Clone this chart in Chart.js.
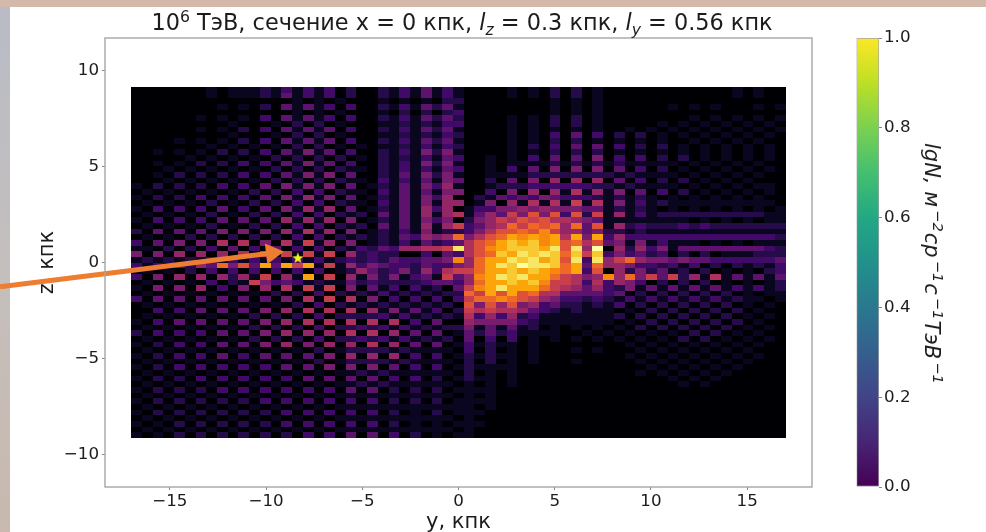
<!DOCTYPE html>
<html lang="ru">
<head>
  <meta charset="UTF-8">
  <title>Карта потока</title>
  <script src="https://cdn.jsdelivr.net/npm/chart.js"></script>
  <style>
    html, body { margin: 0; padding: 0; background: #fff; overflow: hidden; }
    body { width: 986px; height: 532px; position: relative; font-family: "DejaVu Sans", sans-serif; color: #1c1c1c; }
    #topBand { position: absolute; left: 0; top: 0; width: 986px; height: 7px; background: #d4b8aa; }
    #leftBand { position: absolute; left: 0; top: 7px; width: 10px; height: 525px; background: linear-gradient(#b9bcc6, #c4bfbd 50%, #c9b9ae); }
    canvas { position: absolute; top: 0; filter: blur(0.55px); }
    #heat { left: 0; }
    #bar { left: 840px; }
    #title { position: absolute; left: 62px; width: 800px; top: 9px; text-align: center; font-size: 22.4px; line-height: 26px; white-space: pre; filter: blur(0.3px); }
    #barLabel { position: absolute; left: 932px; top: 264px; font-size: 21px; font-style: italic; white-space: pre; transform: translate(-50%, -50%) rotate(90deg); filter: blur(0.3px); }
    sup, sub { font-size: 70%; line-height: 0; }
    #barLabel sup { margin: 0 1px 0 3px; }
  </style>
</head>
<body>
  <div id="topBand"></div>
  <div id="leftBand"></div>
  <canvas id="heat" width="986" height="532"></canvas>
  <canvas id="bar" width="146" height="532"></canvas>
  <div id="title">10<sup>6</sup> ТэВ, сечение x = 0 кпк, <i>l<sub>z</sub></i> = 0.3 кпк, <i>l<sub>y</sub></i> = 0.56 кпк</div>
  <div id="barLabel">lgN, м<sup>−2</sup>ср<sup>−1</sup>с<sup>−1</sup>ТэВ<sup>−1</sup></div>

  <script>
    // axis ticks
    const yTicksKpc = [-15, -10, -5, 0, 5, 10, 15];
    const zTicksKpc = [-10, -5, 0, 5, 10];
    const barTicks = [0, 0.2, 0.4, 0.6, 0.8, 1];

    // extent of the map, kpc
    const yExtent = [-17, 17];
    const zExtent = [-9.13, 9.13];

    // sun and the slide's arrow, in kpc
    const sunY = [-8.35];
    const sunZ = [0.23];
    const arrowY = [-23.82, -9.69];
    const arrowZ = [-1.25, 0.5];

    // map rows from the top, one hex digit per cell (0..f = 0..1)
    const heatRows = [
      "0000000101 1121313130 2002131413 1 0000101020 2010000000 0000010100",
      "0000000101 1121413130 2002131413 1 0000101020 2010000000 0000010100",
      "0000000000 0000010101 0001010102 2 0000000010 1010000000 0000000000",
      "0000000010 1020414130 3002131424 1 0000000010 1010000001 0101000101",
      "0000000000 0000010101 0001020202 3 0000000010 1010000000 0000000000",
      "0000001010 1030414130 3002131424 2 0000101020 2010000000 0101010101",
      "0000000001 0001020201 0001121213 3 0000101020 2010000010 1010101010",
      "0000001010 2030414140 3002131424 1 0000101010 1010010101 0101010101",
      "0000000001 0001020201 0001121213 2 0000101030 4030202010 1010101010",
      "0000101010 2030414140 3002131424 1 0000101020 2010101010 0101010100",
      "0000000101 0101020201 0101121313 2 0000102030 4040302020 1010101010",
      "0010101020 2030415140 3002131525 1 0000101020 2020101010 1010101010",
      "0000010101 0102020202 0102121314 3 0010103040 4050303020 2010101010",
      "0010102020 3030415140 3002131525 1 0010111121 2121211111 0101010100",
      "0001010101 0102020202 1102131314 3 0010304050 5050403020 1010101010",
      "0010202020 3030415150 4002141525 1 0011112222 2222121111 0101010100",
      "0001010101 0102020202 1103131415 4 0020405060 6060403020 2010101000",
      "1020202030 3040515150 4012141536 1 0012223333 3322121111 0101010110",
      "0101010101 0202030302 1103141415 5 0030506061 7161504030 2010101010",
      "1020203030 3040516150 4012141536 0 0214343543 3321212101 0101010100",
      "0101010201 0202030302 1103141516 6 0150617171 8171513121 1111111110",
      "1030303040 3040516160 4012141636 0 1335565655 5441212101 0101010101",
      "0101010201 0202030302 1204141616 7 1464859593 9281613122 2222222211",
      "1030303040 4040616160 5012141535 0 2568798977 6541111111 1010101011",
      "0101010201 0202030302 1204141616 8 3467a8a9a6 a491623222 3232222222",
      "2040404050 5050617160 5012131512 2 35799a9b86 6452212111 1111111111",
      "0101020202 0202030302 1212143656 a 579acbcbc7 c5c3633333 3333333332",
      "3040505070 7050718160 5012131423 4 79acdcdbc9 a794515131 1101010111",
      "1102020304 0304030302 1324366778 e 79bcdddce9 e6f0626351 4444444432",
      "5050606060 7070818180 6232200304 3 79adcededa d8d3534230 2020111222",
      "1212121313 1313131312 3232433445 b 6accedecd9 e3e68a6554 5443333334",
      "31314264a5 94c4c8c181 6354332433 5 6acedfeeda c4a6653323 1302021213",
      "0101020303 0303030301 2642352637 8 8accdcdcba c390625241 2020101023",
      "3050606062 618061c080 6152513418 4 6bcedecca8 756b6a5848 2617141414",
      "0101010302 1853431211 4232222344 3 6accdcdb88 7373653020 2020101012",
      "1050506030 5060708180 5041303120 4 8bceccca87 6463251414 1414131312",
      "0101010101 0102020302 1213121212 2 a8c9c9a774 4443402020 2020201011",
      "3040404040 4040507080 7050303030 3 8aaba98653 3232131313 1313121101",
      "0101010101 0101020302 1212121212 0 9596956342 2121302020 2020201010",
      "0030304040 4050607070 7061514130 2 8787764321 2111010202 0202020100",
      "0101010101 0202020302 2223131212 1 7363623111 1111202020 2020201010",
      "1030404040 4050607070 7070703040 0 6555532111 1111010202 0202020100",
      "0101010101 0202020302 2323131212 2 5141412010 1010102020 2020201010",
      "2030303040 4050606060 7070604040 1 4242311110 0101010101 0202010100",
      "0101010101 0202020302 2323131212 0 4030301010 1010101010 2020101010",
      "1020303040 4050605060 6070604040 1 3121101000 0000010101 0101010100",
      "0101010101 0101010201 2222121111 0 3020101000 1010001010 1010101000",
      "1020303040 3040404050 6060603030 1 2121101000 0000010101 0101010100",
      "0101010101 0101010201 2222121111 0 2020101000 1000001010 1010101000",
      "1020303030 3030404050 5050403030 1 2111100000 0000000101 0101010000",
      "0101010101 0101010101 1212111111 0 2010100000 0000001010 1010100000",
      "1020203030 3030304040 4040303020 1 2110100000 0000000001 0101000000",
      "0101010101 0101010101 1212111111 0 1010100000 0000000000 1010000000",
      "1020202030 3030303030 4040202020 1 1110000000 0000000000 0000000000",
      "0101010101 0101010101 1111111111 0 1010000000 0000000000 0000000000",
      "1020202020 2030303030 3030202020 1 1110000000 0000000000 0000000000",
      "0101010101 0101010101 1111111111 1 1010000000 0000000000 0000000000",
      "1020202020 2020303030 3030201020 1 1100000000 0000000000 0000000000",
      "0101010101 0101010101 1111111111 0 1000000000 0000000000 0000000000",
      "1010202020 2020303030 3030201010 1 1100000000 0000000000 0000000000",
      "0101010101 0101010101 1111111111 0 1000000000 0000000000 0000000000",
      "1010202020 2020203030 4040302010 1 1000000000 0000000000 0000000000"
    ];

    // the map and the bar really do use different colour maps in the source
    const infernoLevels = ["#000004", "#0a0620", "#250b49", "#420a68", "#5d126e", "#781c6d", "#932667", "#ae305c",
      "#c73e4c", "#dd513a", "#ed6925", "#f8870e", "#fca50a", "#f9c932", "#f6e766", "#fcffa4"];
    const viridisStops = ["#440154", "#482475", "#414487", "#355f8d", "#2a788e", "#21918c",
      "#22a884", "#44bf70", "#7ad151", "#bddf26", "#fde725"];

    const textColor = "#1c1c1c";
    const spineColor = "#a6a6a6";
    const tickFont = { family: "DejaVu Sans", size: 16.7 };
    const labelFont = { family: "DejaVu Sans", size: 21 };

    const rows = heatRows.map(r => r.replace(/ /g, ""));
    const dy = (yExtent[1] - yExtent[0]) / rows[0].length;
    const dz = (zExtent[1] - zExtent[0]) / rows.length;

    const cells = [];
    rows.forEach((row, r) => {
      [...row].forEach((ch, c) => {
        cells.push({
          x: yExtent[0] + (c + 0.5) * dy,
          y: zExtent[1] - (r + 0.5) * dz,
          level: parseInt(ch, 16)
        });
      });
    });

    // one small canvas per colour level, sized from the scales
    const swatches = {};
    function swatch(level, chart) {
      if (swatches[level]) return swatches[level];
      const sx = chart.scales.x, sy = chart.scales.y;
      const w = Math.ceil(Math.abs(sx.getPixelForValue(dy) - sx.getPixelForValue(0)));
      const h = Math.ceil(Math.abs(sy.getPixelForValue(dz) - sy.getPixelForValue(0)));
      // options also get resolved once before the layout has run
      if (!(w >= 1 && h >= 1)) return "rect";
      const c = document.createElement("canvas");
      c.width = w;
      c.height = h;
      const g = c.getContext("2d");
      g.fillStyle = infernoLevels[level];
      g.fillRect(0, 0, w, h);
      swatches[level] = c;
      return c;
    }

    function starCanvas() {
      const c = document.createElement("canvas");
      c.width = 14;
      c.height = 14;
      const g = c.getContext("2d");
      g.fillStyle = "#f4f516";
      g.beginPath();
      for (let i = 0; i < 10; i++) {
        const rad = i % 2 ? 2.4 : 6;
        const a = -Math.PI / 2 + i * Math.PI / 5;
        g.lineTo(7 + rad * Math.cos(a), 7 + rad * Math.sin(a));
      }
      g.closePath();
      g.fill();
      return c;
    }

    const frame = {
      id: "frame",
      afterDraw(chart) {
        const a = chart.chartArea, g = chart.ctx;
        g.save();
        g.strokeStyle = spineColor;
        g.lineWidth = 1.4;
        g.strokeRect(a.left, a.top, a.right - a.left, a.bottom - a.top);
        g.restore();
      }
    };

    new Chart(document.getElementById("heat"), {
      type: "scatter",
      plugins: [frame],
      data: {
        datasets: [
          {
            data: arrowY.map((v, i) => ({ x: v, y: arrowZ[i] })),
            showLine: true,
            clip: false,
            borderColor: "#ed7d31",
            backgroundColor: "#ed7d31",
            borderWidth: 5,
            pointStyle: "triangle",
            pointBorderWidth: 0,
            pointRadius: [0, 12],
            rotation: 83
          },
          {
            data: sunY.map((v, i) => ({ x: v, y: sunZ[i] })),
            pointStyle: starCanvas(),
            pointRadius: 6
          },
          {
            data: cells,
            pointRadius: 5,
            pointBorderWidth: 0,
            pointStyle: ctx => ctx.raw ? swatch(ctx.raw.level, ctx.chart) : "rect"
          }
        ]
      },
      options: {
        responsive: false,
        animation: false,
        events: [],
        layout: { padding: { left: 0, top: 38, right: 174, bottom: 0 } },
        plugins: { legend: { display: false }, tooltip: { enabled: false } },
        scales: {
          x: {
            type: "linear",
            min: -18.37,
            max: 18.37,
            afterBuildTicks: s => { s.ticks = yTicksKpc.map(v => ({ value: v })); },
            afterFit: s => { s.height = 45; },
            grid: { drawOnChartArea: false, tickLength: 3, tickColor: "#888" },
            border: { display: false },
            ticks: {
              color: textColor, font: tickFont, padding: 2, maxRotation: 0,
              callback: v => String(v).replace("-", "−")
            },
            title: { display: true, text: "y, кпк", color: textColor, font: labelFont, padding: { top: 0, bottom: -3 } }
          },
          y: {
            type: "linear",
            min: -11.67,
            max: 11.69,
            afterBuildTicks: s => { s.ticks = zTicksKpc.map(v => ({ value: v })); },
            afterFit: s => { s.width = 105; },
            grid: { drawOnChartArea: false, tickLength: 3, tickColor: "#888" },
            border: { display: false },
            ticks: {
              color: textColor, font: tickFont, padding: 3,
              callback: v => String(v).replace("-", "−")
            },
            title: { display: true, text: "z, кпк", color: textColor, font: labelFont, padding: { top: 35, bottom: 0 } }
          }
        }
      }
    });

    new Chart(document.getElementById("bar"), {
      type: "bar",
      data: {
        labels: [""],
        datasets: [{
          data: [1],
          categoryPercentage: 1,
          barPercentage: 1,
          borderWidth: 1,
          borderColor: spineColor,
          borderSkipped: false,
          backgroundColor: ctx => {
            const a = ctx.chart.chartArea;
            if (!a) return viridisStops[0];
            const g = ctx.chart.ctx.createLinearGradient(0, a.bottom, 0, a.top);
            viridisStops.forEach((col, i) => g.addColorStop(i / (viridisStops.length - 1), col));
            return g;
          }
        }]
      },
      options: {
        responsive: false,
        animation: false,
        events: [],
        layout: { padding: { left: 16.5, top: 38, right: 47, bottom: 45 } },
        plugins: { legend: { display: false }, tooltip: { enabled: false } },
        scales: {
          x: { display: false },
          y: {
            position: "right",
            min: 0,
            max: 1,
            afterBuildTicks: s => { s.ticks = barTicks.map(v => ({ value: v })); },
            afterFit: s => { s.width = 60; },
            grid: { drawOnChartArea: false, tickLength: 3, tickColor: "#888" },
            border: { display: false },
            ticks: { color: textColor, font: tickFont, padding: 2, callback: v => v.toFixed(1) }
          }
        }
      }
    });
  </script>
</body>
</html>
